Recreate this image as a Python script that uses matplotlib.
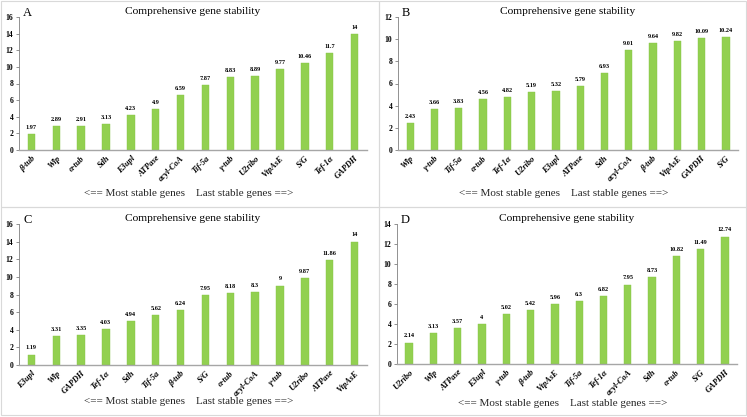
import numpy as np
import matplotlib.pyplot as plt
from matplotlib.patches import Rectangle

plt.rcParams['font.family'] = ['Liberation Serif', 'DejaVu Serif']

genes_a = ['β-tub', 'Wlp', 'α-tub', 'Sdh', 'E3upl', 'ATPase', 'acyl-CoA', 'Tif-5a',
           'γ-tub', 'U2ribo', 'VtpAsE', 'S/G', 'Tef-1α', 'GAPDH']
vals_a = [1.97, 2.89, 2.91, 3.13, 4.23, 4.9, 6.59, 7.87, 8.83, 8.89, 9.77, 10.46, 11.7, 14]

genes_b = ['Wlp', 'γ-tub', 'Tif-5a', 'α-tub', 'Tef-1α', 'U2ribo', 'E3upl', 'ATPase',
           'Sdh', 'acyl-CoA', 'β-tub', 'VtpAsE', 'GAPDH', 'S/G']
vals_b = [2.43, 3.66, 3.83, 4.56, 4.82, 5.19, 5.32, 5.79, 6.93, 9.01, 9.64, 9.82, 10.09, 10.24]

genes_c = ['E3upl', 'Wlp', 'GAPDH', 'Tef-1α', 'Sdh', 'Tif-5a', 'β-tub', 'S/G',
           'α-tub', 'acyl-CoA', 'γ-tub', 'U2ribo', 'ATPase', 'VtpAsE']
vals_c = [1.19, 3.31, 3.35, 4.03, 4.94, 5.62, 6.24, 7.95, 8.18, 8.3, 9, 9.87, 11.86, 14]

genes_d = ['U2ribo', 'Wlp', 'ATPase', 'E3upl', 'γ-tub', 'β-tub', 'VtpAsE', 'Tif-5a',
           'Tef-1α', 'acyl-CoA', 'Sdh', 'α-tub', 'S/G', 'GAPDH']
vals_d = [2.14, 3.13, 3.57, 4, 5.02, 5.42, 5.96, 6.3, 6.82, 7.95, 8.73, 10.82, 11.49, 12.74]

# letter, genes, values, y max, axes box in pixels (left, top, width, height), footer y in pixels
panels = [
    ('A', genes_a, vals_a, 16, [19, 17, 348, 133], 194),
    ('B', genes_b, vals_b, 12, [398, 17, 340, 133], 194),
    ('C', genes_c, vals_c, 16, [19, 224, 348, 141], 402),
    ('D', genes_d, vals_d, 14, [397, 224, 340, 140], 403),
]

W, H = 747, 417
fig = plt.figure(figsize=(W / 100, H / 100), dpi=100)
fig.patch.set_facecolor('white')

# light panel frames
for x0, y0, w, h in [(1, 1, 378, 206), (379, 1, 367, 206), (1, 207, 378, 208), (379, 207, 367, 208)]:
    fig.add_artist(Rectangle((x0 / W, 1 - (y0 + h) / H), w / W, h / H, transform=fig.transFigure,
                             fill=False, edgecolor='#d9d9d9', linewidth=0.8))

for letter, genes, vals, ymax, (px, py, pw, ph), fy in panels:
    ax = fig.add_axes([px / W, 1 - (py + ph) / H, pw / W, ph / H])
    x = np.arange(len(genes))
    ax.bar(x, vals, width=0.3, color='#92d050', edgecolor='#86c544', linewidth=0.3)
    for xi, v in zip(x, vals):
        ax.text(xi, v + ymax * 0.03, '%g' % v, ha='center', va='bottom', fontsize=4.5, fontweight='bold')
    ax.set_xlim(-0.5, len(genes) - 0.5)
    ax.set_ylim(0, ymax)
    ax.set_yticks(np.arange(0, ymax + 1, 2))
    ax.set_xticks(x)
    ax.set_xticklabels(genes, rotation=45, ha='right', rotation_mode='anchor',
                       fontsize=6, fontweight='bold', fontstyle='italic')
    ax.tick_params(axis='y', labelsize=5.5, length=2.5, width=0.6, pad=1.5, color='#808080')
    ax.tick_params(axis='x', length=0, pad=3)
    for lab in ax.get_yticklabels():
        lab.set_fontweight('bold')
    ax.spines['top'].set_visible(False)
    ax.spines['right'].set_visible(False)
    ax.spines['left'].set_color('#808080')
    ax.spines['bottom'].set_color('#a6a6a6')
    ax.spines['left'].set_linewidth(0.6)
    ax.spines['bottom'].set_linewidth(1.0)
    ax.text(0.012, 1.03, letter, transform=ax.transAxes, fontsize=9, va='center')
    ax.set_title('Comprehensive gene stability', fontsize=8.2, pad=2)
    fig.text((px + pw / 2 - 4) / W, 1 - fy / H, '<== Most stable genes    Last stable genes ==>',
             ha='center', va='center', fontsize=8, color='#262626')

fig.savefig('out.png', dpi=100)
